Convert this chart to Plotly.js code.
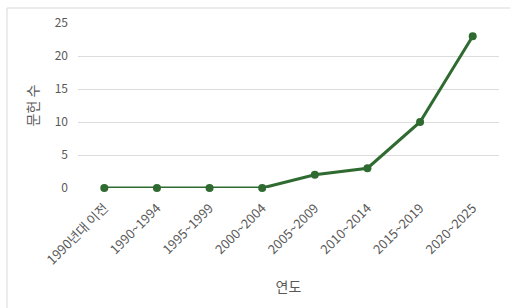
<!DOCTYPE html>
<html><head><meta charset="utf-8">
<script src="https://cdn.plot.ly/plotly-3.0.1.min.js"></script>
<style>html,body{margin:0;padding:0;background:#fff}#c{width:510px;height:308px}</style>
</head><body><div id="c"></div>
<script>
const categories = ["1990년대 이전","1990~1994","1995~1999","2000~2004","2005~2009","2010~2014","2015~2019","2020~2025"];
const counts = [0,0,0,0,2,3,10,23];
const yTicks = [0,5,10,15,20,25];
const xTitle = "연도";
const yTitle = "문헌 수";

const font = "'Noto Sans CJK KR', 'Noto Sans', sans-serif";
Plotly.newPlot('c', [{
  x: categories, y: counts, type: 'scatter', mode: 'lines+markers',
  line: {color: '#2f6a31', width: 3},
  marker: {color: '#2f6a31', size: 8},
  cliponaxis: false
}], {
  width: 510, height: 308,
  margin: {l: 78, r: 11, t: 23, b: 120},
  paper_bgcolor: '#fff', plot_bgcolor: '#fff',
  font: {family: font, color: '#595959', size: 12},
  showlegend: false,
  xaxis: {
    type: 'category', range: [-0.5, 7.5], tickangle: -45,
    showgrid: false, zeroline: false, showline: false, ticks: '',
    tickfont: {size: 13, color: '#595959'},
    ticklabelstandoff: 9,
    title: {text: xTitle, font: {size: 14, color: '#595959'}, standoff: 14},
    automargin: false
  },
  yaxis: {
    range: [0, 25], tickvals: yTicks, showgrid: true, gridcolor: '#dcdcdc', gridwidth: 1,
    zeroline: false, showline: false, ticks: '', ticklen: 0,
    tickfont: {size: 12, color: '#595959'},
    ticklabelstandoff: 9,
    title: {text: yTitle, font: {size: 14, color: '#595959'}, standoff: 12},
    automargin: false
  },
  shapes: [
    {type: 'line', xref: 'paper', yref: 'paper', x0: -71/421, x1: -71/421, y0: (188-8)/165, y1: -120/165, line: {color: '#d9d9d9', width: 1}},
    {type: 'line', xref: 'paper', yref: 'paper', x0: -71/421, x1: 1.05, y0: (188-8)/165, y1: (188-8)/165, line: {color: '#d9d9d9', width: 1}}
  ]
}, {staticPlot: true});
</script></body></html>
